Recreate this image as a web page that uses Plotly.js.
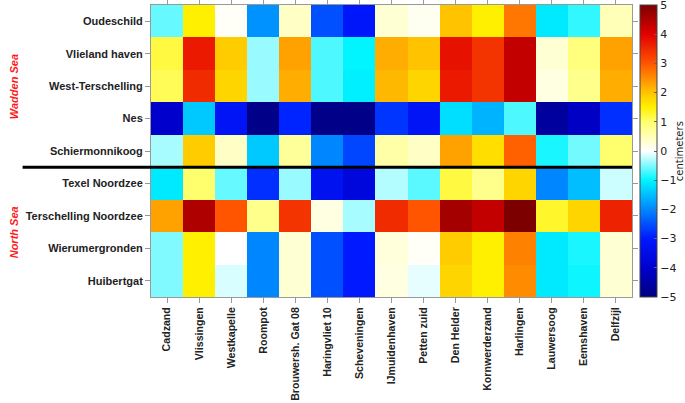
<!DOCTYPE html>
<html><head><meta charset="utf-8">
<script src="https://cdn.plot.ly/plotly-3.0.1.min.js"></script>
<style>html,body{margin:0;padding:0;background:#fff}</style>
</head><body><div id="chart" style="width:685px;height:403px"></div>
<script>
const stations = ["Cadzand","Vlissingen","Westkapelle","Roompot","Brouwersh. Gat 08","Haringvliet 10","Scheveningen","IJmuidenhaven","Petten zuid","Den Helder","Kornwerderzand","Harlingen","Lauwersoog","Eemshaven","Delfzijl"];
const locations = ["Oudeschild","Vlieland haven","West-Terschelling","Nes","Schiermonnikoog","Texel Noordzee","Terschelling Noordzee","Wierumergronden","Huibertgat"];
const oudeschild       = [-0.6, 1.5, 0.05,-1.9, 0.4,-2.5,-3.1, 0.3, 0.1, 2.0, 1.5, 2.7,-1.1,-0.8, 0.5];
const vlielandHaven    = [ 1.2, 3.7, 1.9,-0.4, 2.3,-0.7,-1.0, 2.2, 2.0, 3.8, 3.4, 4.3, 0.3, 0.9, 2.3];
const westTerschelling = [ 1.1, 3.5, 1.8,-0.4, 2.2,-0.7,-1.05,2.1, 1.8, 3.7, 3.4, 4.3, 0.2, 0.8, 2.2];
const nes              = [-4.0,-1.4,-3.2,-4.9,-2.9,-4.9,-4.9,-2.75,-3.2,-1.2,-1.6,-0.7,-4.6,-4.1,-2.8];
const schiermonnikoog  = [-0.35,1.9, 0.4,-1.4, 0.7,-2.0,-2.6, 0.6, 0.4, 2.3, 1.7, 2.9,-0.9,-0.55,1.0];
const texelNoordzee    = [-1.1, 1.0,-0.6,-2.8,-0.4,-3.3,-3.7,-0.3,-0.65,1.2, 0.8, 1.8,-2.0,-1.5,-0.2];
const terschellingNZ   = [ 2.3, 4.5, 3.0, 0.8, 3.4, 0.2,-0.35,3.5, 3.0, 4.6, 4.3, 5.0, 1.3, 1.8, 3.6];
const wierumergronden  = [-0.5, 1.5, 0.0,-2.0, 0.3,-2.5,-3.0, 0.25,0.05,1.9, 1.5, 2.6,-1.1,-0.9, 0.3];
const huibertgat       = [-0.5, 1.5,-0.15,-2.0,0.3,-2.5,-3.0, 0.2,-0.1, 1.8, 1.5, 2.5,-1.1,-0.95,0.3];
const colorTicks = [-5,-4,-3,-2,-1,0,1,2,3,4,5];

const z = [oudeschild, vlielandHaven, westTerschelling, nes, schiermonnikoog, texelNoordzee, terschellingNZ, wierumergronden, huibertgat];

const jet = [
  [0.0,'rgb(0,0,128)'],
  [0.1,'rgb(0,0,205)'],
  [0.2,'rgb(0,25,255)'],
  [0.3,'rgb(0,135,255)'],
  [0.4,'rgb(0,245,255)'],
  [0.5,'rgb(255,255,255)'],
  [0.6,'rgb(255,255,110)'],
  [0.65,'rgb(255,240,0)'],
  [0.7,'rgb(255,195,0)'],
  [0.8,'rgb(255,85,0)'],
  [0.9,'rgb(225,0,0)'],
  [1.0,'rgb(125,0,0)']
];

const tickFont = {family:'Liberation Sans', size:11, weight:'bold', color:'#222'};
const xTickFont = {family:'Liberation Sans', size:10.6, weight:'bold', color:'#222'};
const groupFont = {family:'Liberation Sans', size:11, weight:'bold', style:'italic', color:'#ff1a1a'};
const data = [{
  type:'heatmap', x:stations, y:locations, z:z,
  zmin:-5, zmax:5, colorscale:jet,
  colorbar:{
    x:1.0165, xanchor:'left', y:0.5, yanchor:'middle', len:1, lenmode:'fraction',
    thickness:17, thicknessmode:'pixels', outlinewidth:1, outlinecolor:'#444',
    tickmode:'array', tickvals:colorTicks, ticklabeloverflow:'allow',
    ticks:'inside', ticklen:3, tickcolor:'#666',
    tickfont:{family:'DejaVu Sans', size:11, color:'#222'},
    xpad:0, ypad:0
  }
}];

const layout = {
  width:685, height:403,
  margin:{l:151, r:48, t:5, b:106},
  paper_bgcolor:'#fff', plot_bgcolor:'#fff',
  xaxis:{type:'category', tickangle:-90, tickfont:xTickFont, ticks:'outside', ticklen:5, tickcolor:'#999',
         showline:true, linecolor:'#999', mirror:'ticks', showgrid:false, zeroline:false},
  yaxis:{type:'category', autorange:'reversed', tickfont:tickFont, ticks:'outside', ticklen:5, tickcolor:'#999',
         showline:true, linecolor:'#999', mirror:'ticks', showgrid:false, zeroline:false},
  shapes:[{type:'line', xref:'paper', yref:'y', x0:-0.267, x1:1, y0:4.5, y1:4.5, line:{color:'#000', width:3}}],
  annotations:[
    {xref:'paper', yref:'paper', x:-0.286, y:0.72, xanchor:'center', yanchor:'middle', text:'Wadden Sea', textangle:-90, showarrow:false, font:groupFont},
    {xref:'paper', yref:'paper', x:-0.286, y:0.223, xanchor:'center', yanchor:'middle', text:'North Sea', textangle:-90, showarrow:false, font:groupFont},
    {xref:'paper', yref:'paper', x:1.098, y:0.5, xanchor:'center', yanchor:'middle', text:'centimeters', textangle:-90, showarrow:false,
     font:{family:'DejaVu Sans', size:10, color:'#222'}}
  ]
};
Plotly.newPlot('chart', data, layout, {displayModeBar:false, staticPlot:true});
</script></body></html>
